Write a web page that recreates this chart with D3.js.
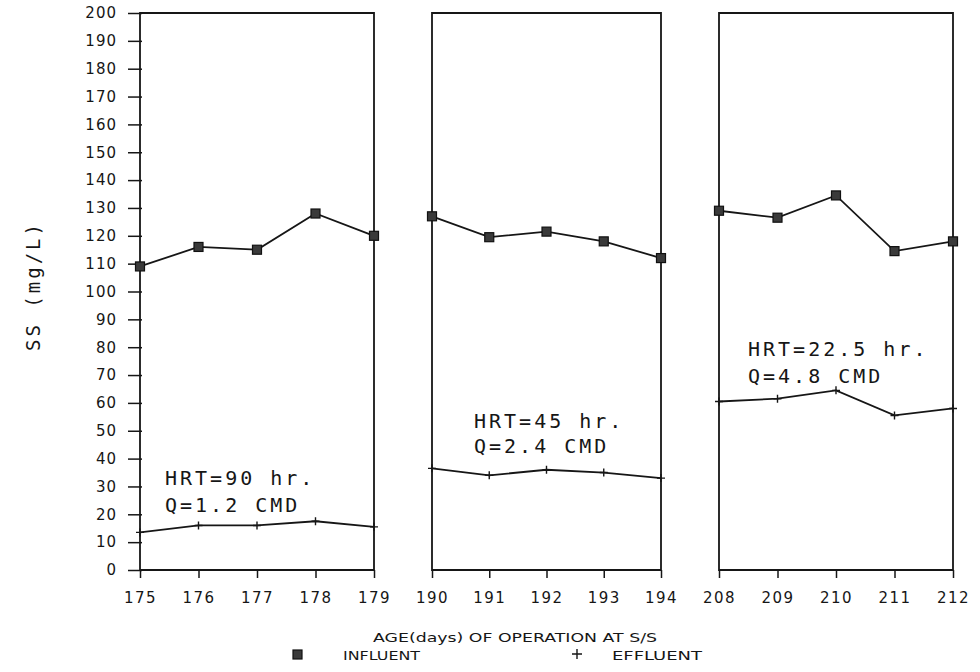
<!DOCTYPE html>
<html>
<head>
<meta charset="utf-8">
<script src="https://cdn.jsdelivr.net/npm/d3@7"></script>
<style>
  html, body { margin: 0; padding: 0; background: #fff; }
  svg { display: block; }
</style>
</head>
<body>
<svg id="chart" width="980" height="672"></svg>
<script>
// ---- data ----
const days1 = [175, 176, 177, 178, 179];
const days2 = [190, 191, 192, 193, 194];
const days3 = [208, 209, 210, 211, 212];
const influent1 = [109, 116, 115, 128, 120];
const influent2 = [127, 119.5, 121.5, 118, 112];
const influent3 = [129, 126.5, 134.5, 114.5, 118];
const effluent1 = [13.5, 16, 16, 17.5, 15.5];
const effluent2 = [36.5, 34, 36, 35, 33];
const effluent3 = [60.5, 61.5, 64.5, 55.5, 58];
const yTicks = d3.range(0, 201, 10);
const notes1 = ["HRT=90 hr.", "Q=1.2 CMD"];
const notes2 = ["HRT=45 hr.", "Q=2.4 CMD"];
const notes3 = ["HRT=22.5 hr.", "Q=4.8 CMD"];
const yTitle = "SS (mg/L)";
const xTitle = "AGE(days) OF OPERATION AT S/S";
const legendNames = ["INFLUENT", "EFFLUENT"];

// ---- layout ----
const svg = d3.select("#chart");
const ink = "#161616";
const y = d3.scaleLinear().domain([0, 200]).range([570, 13]);

const panels = [
  { days: days1, inf: influent1, eff: effluent1, notes: notes1, range: [140, 374], noteX: 165, noteY: [485, 512] },
  { days: days2, inf: influent2, eff: effluent2, notes: notes2, range: [432, 661], noteX: 474, noteY: [428, 453] },
  { days: days3, inf: influent3, eff: effluent3, notes: notes3, range: [719, 953], noteX: 748, noteY: [356, 383] }
];

const tickFont = "'DejaVu Sans', sans-serif";
const monoFont = "'DejaVu Sans Mono', 'Liberation Mono', monospace";

// y axis on first panel
const yAxis = d3.axisLeft(y).tickValues(yTicks).tickSize(12).tickSizeOuter(0).tickPadding(11);
const yg = svg.append("g").attr("transform", "translate(140,0)").call(yAxis);
yg.select(".domain").remove();
yg.selectAll("line").attr("stroke", ink).attr("stroke-width", 1.5).attr("x2", -12).attr("x1", 2);
yg.selectAll("text").attr("fill", ink).style("font-family", tickFont).style("font-size", "15px")
  .style("letter-spacing", "1px");

panels.forEach(p => {
  const x = d3.scaleLinear().domain([p.days[0], p.days[p.days.length - 1]]).range(p.range);
  const g = svg.append("g");

  // frame
  g.append("path")
    .attr("d", `M${x.range()[0]},${y(0)} V${y(200)} H${x.range()[1]} V${y(0)} Z`)
    .attr("fill", "none").attr("stroke", ink).attr("stroke-width", 1.8);

  // x axis
  const xAxis = d3.axisBottom(x).tickValues(p.days).tickFormat(d3.format("d"))
    .tickSize(8).tickSizeOuter(0).tickPadding(14);
  const xg = g.append("g").attr("transform", `translate(0,${y(0)})`).call(xAxis);
  xg.select(".domain").remove();
  xg.selectAll("line").attr("stroke", ink).attr("stroke-width", 1.5);
  xg.selectAll("text").attr("fill", ink).style("font-family", tickFont).style("font-size", "15px")
    .style("letter-spacing", "1.5px");

  // influent line + squares
  const line = d3.line().x((d, i) => x(p.days[i])).y(d => y(d));
  g.append("path").datum(p.inf).attr("d", line)
    .attr("fill", "none").attr("stroke", ink).attr("stroke-width", 1.8);
  g.selectAll(".sq").data(p.inf).join("rect")
    .attr("x", (d, i) => x(p.days[i]) - 4.5).attr("y", d => y(d) - 4.5)
    .attr("width", 9).attr("height", 9)
    .attr("fill", "#3a3a3a").attr("stroke", "#111").attr("stroke-width", 1.2);

  // effluent line + plus marks
  g.append("path").datum(p.eff).attr("d", line)
    .attr("fill", "none").attr("stroke", ink).attr("stroke-width", 1.8);
  g.selectAll(".pl").data(p.eff).join("path")
    .attr("d", (d, i) => {
      const cx = x(p.days[i]), cy = y(d);
      return `M${cx - 4},${cy} H${cx + 4} M${cx},${cy - 4} V${cy + 4}`;
    })
    .attr("stroke", ink).attr("stroke-width", 1.4);

  // annotations
  p.notes.forEach((t, i) => {
    g.append("text").attr("x", p.noteX).attr("y", p.noteY[i]).text(t)
      .attr("fill", ink).style("font-family", monoFont).style("font-size", "20px")
      .style("letter-spacing", "3px");
  });
});

// y title
svg.append("text")
  .attr("transform", "translate(40,286) rotate(-90)")
  .attr("text-anchor", "middle")
  .attr("fill", ink)
  .style("font-family", monoFont).style("font-size", "19px").style("letter-spacing", "3px")
  .text(yTitle);

// x title
svg.append("text")
  .attr("x", 373).attr("y", 642)
  .attr("textLength", 284).attr("lengthAdjust", "spacingAndGlyphs")
  .attr("fill", ink)
  .style("font-family", tickFont).style("font-size", "13px")
  .text(xTitle);

// legend
svg.append("rect").attr("x", 293).attr("y", 650).attr("width", 9).attr("height", 9)
  .attr("fill", "#3a3a3a").attr("stroke", "#111").attr("stroke-width", 1.2);
svg.append("text").attr("x", 343).attr("y", 660).attr("textLength", 77).attr("lengthAdjust", "spacingAndGlyphs")
  .attr("fill", ink).style("font-family", tickFont).style("font-size", "12.5px").text(legendNames[0]);
svg.append("path").attr("d", "M572,654 H582 M577,649 V659").attr("stroke", ink).attr("stroke-width", 1.4);
svg.append("text").attr("x", 612).attr("y", 660).attr("textLength", 90).attr("lengthAdjust", "spacingAndGlyphs")
  .attr("fill", ink).style("font-family", tickFont).style("font-size", "12.5px").text(legendNames[1]);
</script>
</body>
</html>
